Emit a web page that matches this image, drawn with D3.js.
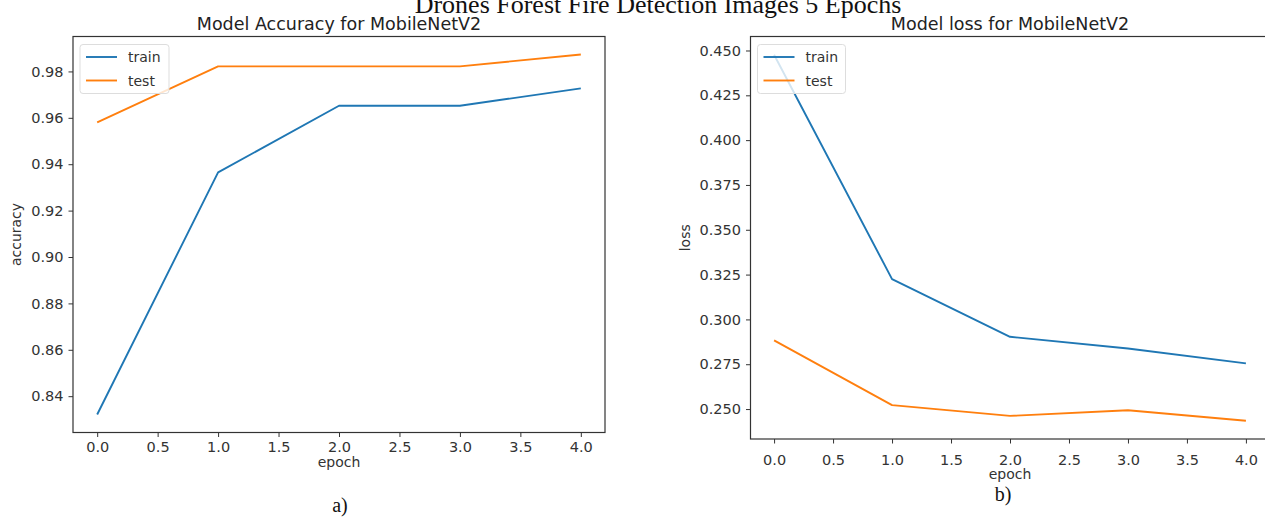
<!DOCTYPE html>
<meta charset="utf-8">
<style type="text/css">
body { margin: 0; background: #fff; }
svg { display: block; }
.frame { fill: none; stroke: #333; stroke-width: 1.2; }
.axis text { font-family: "DejaVu Sans", sans-serif; font-size: 14.5px; fill: #333; }
.axis path { display: none; }
.axis line { stroke: #333; stroke-width: 1; }
.line { fill: none; stroke-width: 1.9; stroke-linejoin: round; }
.ttl { font-family: "DejaVu Sans", sans-serif; font-size: 17.5px; fill: #222; }
.lab { font-family: "DejaVu Sans", sans-serif; font-size: 14px; fill: #333; }
.serif { font-family: "Liberation Serif", "Times New Roman", serif; fill: #111; }
</style>
<body></body>
<script src="https://d3js.org/d3.v7.min.js"></script>
<script>

// data
var epochs = [0, 1, 2, 3, 4];
var accTrain = [0.8321, 0.9365, 0.9652, 0.9652, 0.9727];
var accTest = [0.9580, 0.9822, 0.9822, 0.9822, 0.9873];
var lossTrain = [0.4476, 0.3225, 0.2903, 0.2838, 0.2755];
var lossTest = [0.2883, 0.2522, 0.2462, 0.2493, 0.2435];

var xTicks = [0, 0.5, 1, 1.5, 2, 2.5, 3, 3.5, 4];
var accTicks = [0.84, 0.86, 0.88, 0.90, 0.92, 0.94, 0.96, 0.98];
var lossTicks = [0.250, 0.275, 0.300, 0.325, 0.350, 0.375, 0.400, 0.425, 0.450];
var seriesNames = ["train", "test"];
var colors = ["#1f77b4", "#ff7f0e"];

var W = 1265, H = 518;

var svg = d3.select("body").append("svg")
    .attr("width", W)
    .attr("height", H);

// super title, its top is cut by the picture edge in the original too
svg.append("text")
    .attr("class", "serif")
    .attr("x", 658)
    .attr("y", 13)
    .attr("text-anchor", "middle")
    .style("font-size", "26px")
    .text("Drones Forest Fire Detection Images 5 Epochs");

function panel(p) {
  var g = svg.append("g");

  var xScale = d3.scaleLinear().domain([-0.2, 4.2]).range([p.left, p.right]);

  // matplotlib style 5% margins on y
  var all = p.series[0].concat(p.series[1]);
  var ext = d3.extent(all);
  var pad = (ext[1] - ext[0]) * 0.05;
  var yScale = d3.scaleLinear().domain([ext[0] - pad, ext[1] + pad]).range([p.bottom, p.top]);

  var xAxis = d3.axisBottom(xScale)
      .tickValues(xTicks)
      .tickFormat(d3.format(".1f"))
      .tickSize(4.5)
      .tickPadding(p.xPad);
  g.append("g")
      .attr("class", "axis")
      .attr("transform", "translate(0," + p.bottom + ")")
      .call(xAxis);

  var yAxis = d3.axisLeft(yScale)
      .tickValues(p.ticks)
      .tickFormat(d3.format(p.fmt))
      .tickSize(4.5)
      .tickPadding(5);
  g.append("g")
      .attr("class", "axis")
      .attr("transform", "translate(" + p.left + ",0)")
      .call(yAxis);

  var line = d3.line()
      .x(function(d, i) { return xScale(epochs[i]); })
      .y(function(d) { return yScale(d); });

  p.series.forEach(function(s, k) {
    g.append("path")
        .datum(s)
        .attr("class", "line")
        .attr("stroke", colors[k])
        .attr("d", line);
  });

  g.append("rect")
      .attr("class", "frame")
      .attr("x", p.left)
      .attr("y", p.top)
      .attr("width", p.right - p.left)
      .attr("height", p.bottom - p.top);

  // title
  g.append("text")
      .attr("class", "ttl")
      .attr("x", (p.left + p.right) / 2)
      .attr("y", p.top - 7)
      .attr("text-anchor", "middle")
      .text(p.title);

  // axis labels
  g.append("text")
      .attr("class", "lab")
      .attr("x", (p.left + p.right) / 2)
      .attr("y", p.bottom + p.xlabOff)
      .attr("text-anchor", "middle")
      .text("epoch");

  g.append("text")
      .attr("class", "lab")
      .attr("transform", "translate(" + p.ylabX + "," + ((p.top + p.bottom) / 2) + ") rotate(-90)")
      .attr("text-anchor", "middle")
      .text(p.ylabel);

  // legend (upper left, semi transparent like matplotlib)
  var lg = g.append("g")
      .attr("transform", "translate(" + (p.left + 7) + "," + (p.top + 8) + ")");
  lg.append("rect")
      .attr("width", p.legW)
      .attr("height", 49)
      .attr("rx", 3)
      .attr("fill", "#fff")
      .attr("fill-opacity", 0.8)
      .attr("stroke", "#ddd");
  seriesNames.forEach(function(n, k) {
    var yy = 12.5 + k * 23.5;
    lg.append("line")
        .attr("x1", 6).attr("x2", 37)
        .attr("y1", yy).attr("y2", yy)
        .attr("stroke", colors[k])
        .attr("stroke-width", 1.9);
    lg.append("text")
        .attr("class", "lab")
        .attr("x", 48)
        .attr("y", yy + 5)
        .text(n);
  });

  // sub caption
  svg.append("text")
      .attr("class", "serif")
      .attr("x", p.capX)
      .attr("y", p.capY)
      .attr("text-anchor", "middle")
      .style("font-size", "20px")
      .text(p.caption);
}

panel({
  left: 73, right: 605, top: 36.5, bottom: 432.5, xPad: 5, xlabOff: 34,
  series: [accTrain, accTest], ticks: accTicks, fmt: ".2f",
  title: "Model Accuracy for MobileNetV2", ylabel: "accuracy", ylabX: 21,
  legW: 89, caption: "a)", capX: 340, capY: 512
});

panel({
  left: 750.5, right: 1269.5, top: 36.5, bottom: 439, xPad: 11, xlabOff: 40,
  series: [lossTrain, lossTest], ticks: lossTicks, fmt: ".3f",
  title: "Model loss for MobileNetV2", ylabel: "loss", ylabX: 690,
  legW: 88, caption: "b)", capX: 1003, capY: 501
});

</script>
